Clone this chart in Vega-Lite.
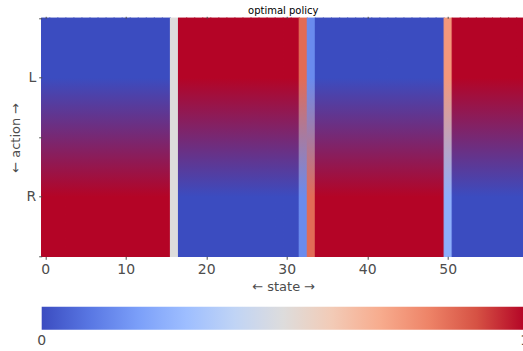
{
  "$schema": "https://vega.github.io/schema/vega-lite/v6.json",
  "width": 483,
  "height": 238,
  "autosize": {"type": "none"},
  "padding": {"left": 41.7, "top": 18.3, "right": 0, "bottom": 95},
  "title": {"text": "optimal policy", "fontSize": 10, "fontWeight": "normal", "color": "#000000", "offset": 0, "anchor": "middle"},
  "config": {
    "font": "DejaVu Sans",
    "view": {"stroke": null},
    "axis": {"labelFontSize": 14, "labelColor": "#4d4d4d", "titleFontSize": 13, "titleFontWeight": "normal", "titleColor": "#4d4d4d", "tickColor": "#4d4d4d", "tickSize": 3, "domain": false, "grid": false}
  },
  "data": {"values": [
    {"state": 0, "L": 0, "R": 1}, {"state": 1, "L": 0, "R": 1}, {"state": 2, "L": 0, "R": 1}, {"state": 3, "L": 0, "R": 1},
    {"state": 4, "L": 0, "R": 1}, {"state": 5, "L": 0, "R": 1}, {"state": 6, "L": 0, "R": 1}, {"state": 7, "L": 0, "R": 1},
    {"state": 8, "L": 0, "R": 1}, {"state": 9, "L": 0, "R": 1}, {"state": 10, "L": 0, "R": 1}, {"state": 11, "L": 0, "R": 1},
    {"state": 12, "L": 0, "R": 1}, {"state": 13, "L": 0, "R": 1}, {"state": 14, "L": 0, "R": 1}, {"state": 15, "L": 0, "R": 1},
    {"state": 16, "L": 0.5, "R": 0.5}, {"state": 17, "L": 1, "R": 0}, {"state": 18, "L": 1, "R": 0}, {"state": 19, "L": 1, "R": 0},
    {"state": 20, "L": 1, "R": 0}, {"state": 21, "L": 1, "R": 0}, {"state": 22, "L": 1, "R": 0}, {"state": 23, "L": 1, "R": 0},
    {"state": 24, "L": 1, "R": 0}, {"state": 25, "L": 1, "R": 0}, {"state": 26, "L": 1, "R": 0}, {"state": 27, "L": 1, "R": 0},
    {"state": 28, "L": 1, "R": 0}, {"state": 29, "L": 1, "R": 0}, {"state": 30, "L": 1, "R": 0}, {"state": 31, "L": 1, "R": 0},
    {"state": 32, "L": 0.85, "R": 0.15}, {"state": 33, "L": 0.15, "R": 0.85}, {"state": 34, "L": 0, "R": 1}, {"state": 35, "L": 0, "R": 1},
    {"state": 36, "L": 0, "R": 1}, {"state": 37, "L": 0, "R": 1}, {"state": 38, "L": 0, "R": 1}, {"state": 39, "L": 0, "R": 1},
    {"state": 40, "L": 0, "R": 1}, {"state": 41, "L": 0, "R": 1}, {"state": 42, "L": 0, "R": 1}, {"state": 43, "L": 0, "R": 1},
    {"state": 44, "L": 0, "R": 1}, {"state": 45, "L": 0, "R": 1}, {"state": 46, "L": 0, "R": 1}, {"state": 47, "L": 0, "R": 1},
    {"state": 48, "L": 0, "R": 1}, {"state": 49, "L": 0, "R": 1}, {"state": 50, "L": 0.75, "R": 0.25}, {"state": 51, "L": 1, "R": 0},
    {"state": 52, "L": 1, "R": 0}, {"state": 53, "L": 1, "R": 0}, {"state": 54, "L": 1, "R": 0}, {"state": 55, "L": 1, "R": 0},
    {"state": 56, "L": 1, "R": 0}, {"state": 57, "L": 1, "R": 0}, {"state": 58, "L": 1, "R": 0}, {"state": 59, "L": 1, "R": 0}
  ]},
  "layer": [
    {
      "transform": [{"fold": ["L", "R"], "as": ["action", "value"]}],
      "mark": {"type": "rect", "strokeWidth": 1.2, "stroke": {"expr": "scale('color', datum.value)"}},
      "encoding": {
        "x": {"field": "state", "type": "ordinal", "scale": {"paddingInner": 0, "paddingOuter": 0},
              "axis": {"orient": "bottom", "labelAngle": 0, "labelPadding": 3, "labelOverlap": false, "labelFlush": false,
                       "labelExpr": "datum.value % 10 === 0 ? datum.label : ''",
                       "tickOpacity": {"condition": {"test": "datum.value % 10 === 0", "value": 1}, "value": 0},
                       "title": "← state →", "titlePadding": 4}},
        "y": {"field": "action", "type": "nominal", "sort": ["L", "R"], "scale": {"paddingInner": 0, "paddingOuter": 0},
              "axis": {"orient": "left", "labels": false, "title": null, "tickBand": "extent"}},
        "color": {"field": "value", "type": "quantitative",
          "scale": {"domain": [0, 0.1, 0.2, 0.3, 0.4, 0.5, 0.6, 0.7, 0.8, 0.9, 1],
                    "range": ["#3b4cc0", "#5977e3", "#7b9ff9", "#9ebeff", "#c0d4f5", "#dddcdc", "#f2cbb7", "#f7ac8e", "#ee8468", "#d65244", "#b40426"],
                    "interpolate": "rgb"},
          "legend": {"orient": "none", "direction": "horizontal", "legendX": 0, "legendY": 288.5, "gradientLength": 483, "gradientThickness": 23,
                     "title": null, "values": [0, 1], "format": "d", "labelFontSize": 14, "labelColor": "#4d4d4d", "labelOffset": 4, "gradientStrokeWidth": 0,
                     "encode": {"labels": {"update": {"align": {"value": "center"}}}}}}
      }
    },
    {
      "mark": {"type": "rect",
               "fill": {"expr": "{gradient: 'linear', x1: 0, y1: 0, x2: 0, y2: 1, stops: [{offset: 0.25, color: scale('color', datum.L)}, {offset: 0.75, color: scale('color', datum.R)}]}"},
               "stroke": {"expr": "{gradient: 'linear', x1: 0, y1: 0, x2: 0, y2: 1, stops: [{offset: 0.25, color: scale('color', datum.L)}, {offset: 0.75, color: scale('color', datum.R)}]}"},
               "strokeWidth": 1.2},
      "encoding": {
        "x": {"field": "state", "type": "ordinal",
              "axis": {"orient": "top", "labels": false, "title": null, "tickSize": 2,
                       "tickOpacity": {"condition": {"test": "datum.value % 10 === 0", "value": 1}, "value": 0}}}
      }
    },
    {
      "transform": [{"fold": ["L", "R"], "as": ["action", "value"]}],
      "mark": {"type": "rect", "opacity": 0},
      "encoding": {
        "x": {"field": "state", "type": "ordinal", "axis": null},
        "y": {"field": "action", "type": "nominal", "sort": ["L", "R"],
              "axis": {"orient": "left", "labelAngle": 0, "labelPadding": 3, "title": "← action →", "titlePadding": 3, "offset": 0}}
      }
    }
  ],
  "resolve": {"axis": {"x": "independent", "y": "independent"}}
}
